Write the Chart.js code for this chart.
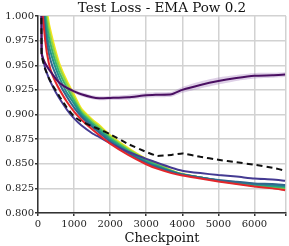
<!DOCTYPE html>
<html>
<head>
<meta charset="utf-8">
<script src="https://cdn.jsdelivr.net/npm/chart.js@4"></script>
<style>
  html, body { margin: 0; padding: 0; background: #fff; }
  #wrap { width: 289px; height: 246px; position: relative; }
</style>
</head>
<body>
<div id="wrap"><canvas id="lossChart"></canvas></div>
<script>
// ── DATA ─────────────────────────────────────────
const checkpoints = [0, 100, 200, 300, 400, 500, 600, 800, 1000, 1200, 1500, 1700, 2000, 2500, 3000, 3300, 3700, 4000, 4500, 5000, 5500, 6000, 6500, 6850];

const baseline    = [1.8, 0.960, 0.946, 0.937, 0.930, 0.924, 0.918, 0.907, 0.898, 0.893, 0.888, 0.885, 0.880, 0.870, 0.862, 0.858, 0.859, 0.8605, 0.857, 0.854, 0.8515, 0.849, 0.846, 0.843];
const purpleRun   = [1.8, 0.962, 0.952, 0.946, 0.941, 0.936, 0.932, 0.927, 0.9235, 0.9205, 0.9175, 0.9165, 0.9168, 0.9175, 0.9195, 0.920, 0.9205, 0.925, 0.930, 0.934, 0.937, 0.9393, 0.9398, 0.9405];
const purpleSpread = [0, 0.002, 0.002, 0.002, 0.002, 0.002, 0.002, 0.002, 0.002, 0.002, 0.002, 0.002, 0.002, 0.0025, 0.0025, 0.0025, 0.0025, 0.003, 0.0035, 0.0035, 0.003, 0.0028, 0.0025, 0.0025];
const indigoRun   = [1.8, 0.965, 0.947, 0.937, 0.929, 0.922, 0.916, 0.905, 0.896, 0.889, 0.881, 0.877, 0.871, 0.862, 0.855, 0.851, 0.846, 0.843, 0.8405, 0.8385, 0.837, 0.835, 0.834, 0.8328];
const redRun      = [1.8, 1.02, 0.975, 0.952, 0.940, 0.932, 0.925, 0.913, 0.903, 0.895, 0.885, 0.879, 0.8705, 0.859, 0.8495, 0.845, 0.8405, 0.838, 0.835, 0.832, 0.8295, 0.827, 0.825, 0.8232];
const blueRun     = [1.85, 1.04, 0.986, 0.962, 0.949, 0.940, 0.931, 0.918, 0.907, 0.898, 0.8875, 0.8815, 0.8726, 0.8607, 0.8509, 0.8464, 0.8418, 0.839, 0.836, 0.8335, 0.8317, 0.830, 0.8295, 0.8285];
const tealRun     = [1.9, 1.056, 0.995, 0.970, 0.957, 0.946, 0.937, 0.922, 0.911, 0.900, 0.8895, 0.8835, 0.8743, 0.8621, 0.852, 0.8475, 0.8422, 0.839, 0.836, 0.833, 0.831, 0.8293, 0.828, 0.8272];
const greenRun    = [1.95, 1.072, 1.004, 0.979, 0.964, 0.952, 0.942, 0.927, 0.914, 0.902, 0.8915, 0.8855, 0.876, 0.8635, 0.8531, 0.8486, 0.8426, 0.8392, 0.836, 0.8328, 0.8305, 0.8285, 0.827, 0.826];
const limeRun     = [1.98, 1.088, 1.013, 0.987, 0.971, 0.958, 0.947, 0.931, 0.917, 0.904, 0.8935, 0.8875, 0.8777, 0.8649, 0.8542, 0.8497, 0.843, 0.8395, 0.836, 0.8328, 0.8302, 0.828, 0.826, 0.825];
const yellowRun   = [2.0, 1.10, 1.02, 0.993, 0.977, 0.963, 0.951, 0.934, 0.920, 0.906, 0.895, 0.889, 0.879, 0.866, 0.855, 0.8505, 0.8433, 0.8395, 0.836, 0.8328, 0.830, 0.8275, 0.8255, 0.824];

const xTickValues = [0, 1000, 2000, 3000, 4000, 5000, 6000];
const xMax = 6875;
const yMin = 0.8, yMax = 1.0, yStep = 0.025;
const chartTitle = 'Test Loss - EMA Pow 0.2';

// ── HELPERS ──────────────────────────────────────
const pts = arr => arr.map((v, i) => ({ x: checkpoints[i], y: v }));
const FONT = 'DejaVu Serif';

function linha(label, data, color, extra) {
  return Object.assign({
    label,
    data: pts(data),
    borderColor: color,
    backgroundColor: color,
    borderWidth: 2,
    pointRadius: 0,
    fill: false,
    tension: 0.2,
  }, extra || {});
}

const purpleHi = purpleRun.map((v, i) => v + purpleSpread[i]);
const purpleLo = purpleRun.map((v, i) => v - purpleSpread[i]);

// first dataset = drawn on top
const datasets = [
  linha('baseline', baseline, '#111111', { borderDash: [6, 4], tension: 0.1 }),
  linha('pow-a', purpleRun, '#4a0f62'),
  linha('pow-a hi', purpleHi, 'rgba(0,0,0,0)', { borderWidth: 0 }),
  linha('pow-a lo', purpleLo, 'rgba(0,0,0,0)', { borderWidth: 0, fill: '-1', backgroundColor: 'rgba(160,120,185,0.35)' }),
  linha('red', redRun, '#e3262b'),
  linha('indigo', indigoRun, '#443a92'),
  linha('blue', blueRun, '#30678d'),
  linha('teal', tealRun, '#21918c'),
  linha('green', greenRun, '#3bb56c'),
  linha('lime', limeRun, '#95d840'),
  linha('yellow', yellowRun, '#f3e51e'),
];

// título centralizado sobre a área do gráfico (não sobre o canvas todo)
const tituloArea = {
  id: 'tituloArea',
  afterDraw(chart) {
    const { ctx, chartArea } = chart;
    ctx.save();
    ctx.font = `13.5px "${FONT}"`;
    ctx.fillStyle = '#111';
    ctx.textAlign = 'center';
    ctx.textBaseline = 'middle';
    ctx.fillText(chartTitle, (chartArea.left + chartArea.right) / 2, 8);
    ctx.restore();
  },
};

const eixoCor = '#333333';
const gradeCor = '#d2d2d2';

new Chart(document.getElementById('lossChart'), {
  type: 'line',
  data: { datasets },
  plugins: [tituloArea],
  options: {
    responsive: true,
    maintainAspectRatio: false,
    animation: false,
    layout: { padding: { left: 0, right: 3, top: 16, bottom: 0 } },
    plugins: {
      legend: { display: false },
      tooltip: { enabled: false },
      title: { display: false },
    },
    scales: {
      x: {
        type: 'linear',
        min: 0,
        max: xMax,
        afterBuildTicks: s => { s.ticks = xTickValues.concat([xMax]).map(v => ({ value: v })); },
        afterFit: s => { s.height = 33; },
        grid: { color: gradeCor, lineWidth: 1.5, tickColor: eixoCor, tickLength: 3 },
        border: { color: eixoCor, width: 1.5 },
        ticks: {
          color: '#222',
          font: { family: FONT, size: 10 },
          padding: 2,
          autoSkip: false,
          maxRotation: 0,
          callback: v => (xTickValues.includes(v) ? String(v) : ''),
        },
        title: {
          display: true,
          text: 'Checkpoint',
          color: '#111',
          font: { family: FONT, size: 13 },
          padding: { top: 0, bottom: 0 },
        },
      },
      y: {
        min: yMin,
        max: yMax,
        afterFit: s => { s.width = 38; },
        grid: { color: gradeCor, lineWidth: 1.5, tickColor: eixoCor, tickLength: 3 },
        border: { color: eixoCor, width: 1.5 },
        ticks: {
          stepSize: yStep,
          color: '#222',
          font: { family: FONT, size: 10 },
          padding: 1,
          callback: v => v.toFixed(3),
        },
      },
    },
  },
});
</script>
</body>
</html>
